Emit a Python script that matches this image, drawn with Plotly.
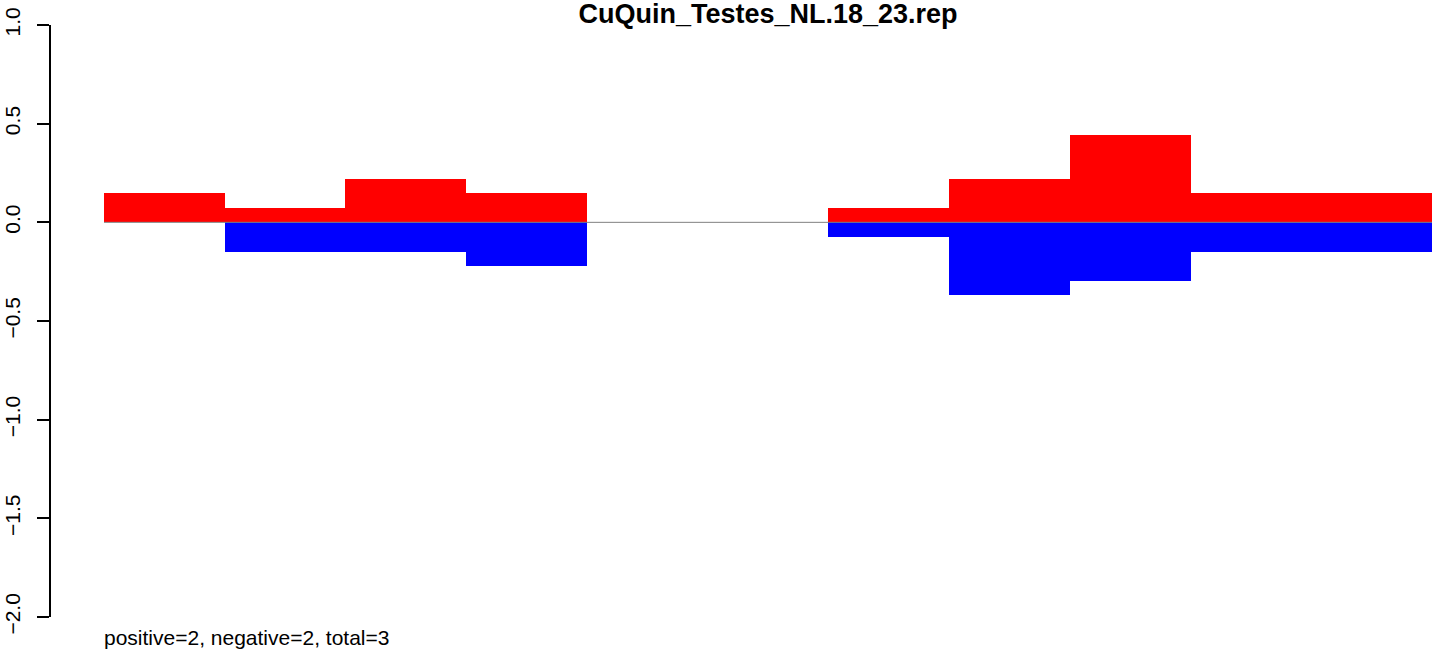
"""
Replicate-style plot: positive / negative counts per bin.
"""

import plotly.graph_objects as go


# =========================================================
# DATA
# =========================================================

bin_start = [0, 1, 2, 3, 4, 5, 6, 7, 8, 9, 10]
bin_width = 1

positive = [0.148, 0.074, 0.222, 0.148, 0, 0, 0.074, 0.222, 0.444, 0.148, 0.148]
negative = [0, -0.148, -0.148, -0.222, 0, 0, -0.074, -0.370, -0.296, -0.148, -0.148]

y_ticks = [-2.0, -1.5, -1.0, -0.5, 0.0, 0.5, 1.0]

title_text = "CuQuin_Testes_NL.18_23.rep"
summary_text = "positive=2, negative=2, total=3"

FONT = "Liberation Sans, Arial, Helvetica, sans-serif"

# plot box in pixels
LEFT = 51
RIGHT = 12
DATA_LEFT_PX = 104
DATA_RIGHT_PX = 1432


# =========================================================
# FIGURE
# =========================================================

centers = [s + bin_width / 2 for s in bin_start]
x_end = bin_start[-1] + bin_width
px_per_unit = (DATA_RIGHT_PX - DATA_LEFT_PX) / x_end

fig = go.Figure()

# zero line under bars
fig.add_trace(
    go.Scatter(
        x=[bin_start[0], x_end],
        y=[0, 0],
        mode="lines",
        line=dict(color="#808080", width=1),
        showlegend=False,
        hoverinfo="skip"
    )
)

fig.add_trace(
    go.Bar(
        x=centers,
        y=positive,
        width=bin_width,
        marker=dict(color="#ff0000", line=dict(width=0)),
        showlegend=False
    )
)

fig.add_trace(
    go.Bar(
        x=centers,
        y=negative,
        width=bin_width,
        marker=dict(color="#0000ff", line=dict(width=0)),
        showlegend=False
    )
)

fig.add_annotation(
    x=bin_start[0],
    y=-20 / 592,
    xref="x",
    yref="paper",
    xshift=-2,
    text=summary_text,
    showarrow=False,
    xanchor="left",
    yanchor="middle",
    font=dict(size=21, color="black", family=FONT)
)

fig.update_layout(
    width=1444,
    height=656,
    barmode="overlay",
    bargap=0,
    plot_bgcolor="white",
    paper_bgcolor="white",
    margin=dict(l=LEFT, r=RIGHT, t=25, b=39, autoexpand=False),
    font=dict(family=FONT, size=21, color="black"),
    title=dict(
        text=f"<b>{title_text}</b>",
        xref="container",
        yref="container",
        x=768 / 1444,
        y=1 - 14 / 656,
        xanchor="center",
        yanchor="middle",
        automargin=False,
        font=dict(size=27, family=FONT, color="black")
    ),
    xaxis=dict(
        range=[
            -(DATA_LEFT_PX - LEFT) / px_per_unit,
            x_end + (1444 - RIGHT - DATA_RIGHT_PX) / px_per_unit
        ],
        visible=False,
        showgrid=False,
        zeroline=False,
        automargin=False
    ),
    yaxis=dict(
        range=[-2, 1],
        tickvals=y_ticks,
        ticktext=[f"{v:.1f}".replace("-", "\u2212") for v in y_ticks],
        tickangle=-90,
        ticks="outside",
        ticklen=12,
        tickwidth=1.5,
        tickcolor="black",
        showline=True,
        linecolor="black",
        linewidth=1.5,
        showgrid=False,
        zeroline=False,
        automargin=False,
        ticklabelstandoff=9,
        tickfont=dict(size=21, family=FONT, color="black")
    )
)

# drop the default page margin so the figure sits at the window corner
fig.write_html(
    "out.html",
    config={"displayModeBar": False},
    post_script="document.body.style.margin = '0';"
)
